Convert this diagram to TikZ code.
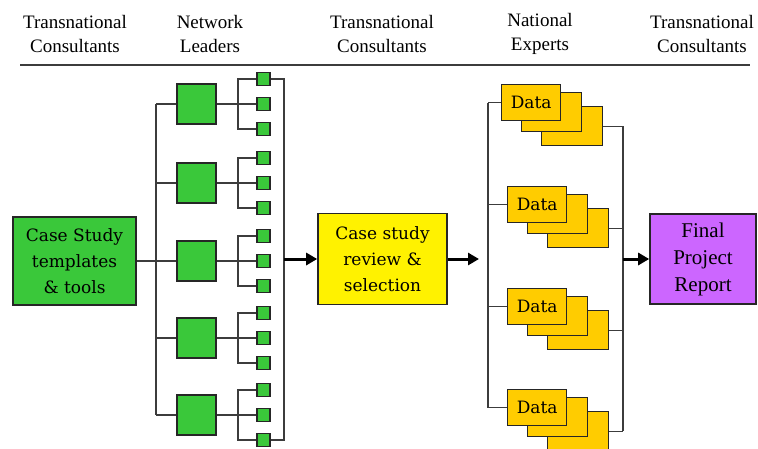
\documentclass[tikz,border=0pt]{standalone}
\usepackage{fontspec}
\setmainfont{Liberation Serif}
\newfontfamily\timesfont{Liberation Serif}
\newfontfamily\slabfont{DejaVu Serif}
\usetikzlibrary{arrows.meta}
\definecolor{leafgreen}{RGB}{58,200,58}
\definecolor{datagold}{RGB}{255,204,0}
\definecolor{reportviolet}{RGB}{204,102,255}
\definecolor{wire}{RGB}{60,60,60}
\tikzset{
  box/.style={draw=black!85,line width=1.6pt,inner sep=0pt,align=center,
    font=\slabfont\fontsize{17}{26}\selectfont},
  leader/.style={draw=black!85,line width=1.4pt,fill=leafgreen,
    minimum width=39pt,minimum height=40pt,inner sep=0pt},
  leaf/.style={draw=black!85,line width=1.2pt,fill=leafgreen,
    minimum size=13pt,inner sep=0pt},
  databox/.style={draw=black!85,line width=1.3pt,fill=datagold,inner sep=0pt,
    anchor=north west,font=\slabfont\fontsize{17}{20}\selectfont},
  head/.style={align=center,inner sep=0pt,font=\timesfont\fontsize{19}{24}\selectfont},
  link/.style={draw=wire,line width=1.3pt},
  flow/.style={line width=3pt,-{Triangle[length=11pt,width=12pt]}}
}
\begin{document}
\begin{tikzpicture}[x=1pt,y=-1pt]
\useasboundingbox (0,0) rectangle (758,448);
% headings
\path
(75,34) node[head] (h1) {Transnational\\Consultants}
(210,34) node[head] (h2) {Network\\Leaders}
(382,34) node[head] (h3) {Transnational\\Consultants}
(540,34) node[head] (h4) {National\\Experts}
(702,34) node[head] (h5) {Transnational\\Consultants};
\coordinate (ruleL) at (20,65);
\coordinate (ruleR) at (750,65);
\draw[draw=wire,line width=2pt] (ruleL) -- (ruleR);
% bus positions
\coordinate (lbus) at (156,0);
\coordinate (sbus) at (238,0);
\coordinate (rbus) at (284,0);
\coordinate (dbus) at (488,0);
\coordinate (obus) at (623,0);
% network leaders and their leaves
\foreach \y [count=\i] in {104,183,261,338,415}{
  \node[leader] (lead\i) at (196.5,\y) {};
  \foreach \dy [count=\j] in {-25,0,25}
    \node[leaf] (sq\i-\j) at (263.5,\y+\dy) {};
  \draw[link] (lead\i.west -| lbus) -- (lead\i.west);
  \draw[link] (lead\i.east) -- (sq\i-2.west);
  \draw[link] (sq\i-1.west) -- (sq\i-1.west -| sbus) -- (sq\i-3.west -| sbus) -- (sq\i-3.west);
}
\draw[link] (lead1.west -| lbus) -- (lead5.west -| lbus);
\draw[link] (sq1-1.east) -- (sq1-1.east -| rbus) -- (sq5-3.east -| rbus) -- (sq5-3.east);
% boxes
\node[box,fill=leafgreen,minimum width=123pt,minimum height=88pt] (tools) at (74.5,261) {Case Study\\templates\\\& tools};
\node[box,fill=yellow,minimum width=129pt,minimum height=91pt] (review) at (382.5,259) {Case study\\review \&\\selection};
\node[box,fill=reportviolet,minimum width=106pt,minimum height=90pt,
  font=\timesfont\fontsize{21}{27}\selectfont] (report) at (703,259) {Final\\Project\\Report};
\draw[link] (tools.east) -- (lead3.west);
% national experts data
\foreach \x/\y [count=\i] in {501/84,507/186,507/288,507/389}{
  \node[databox,minimum width=61pt,minimum height=39pt] (back\i) at (\x+40,\y+22) {};
  \node[databox,minimum width=60pt,minimum height=39pt] (mid\i) at (\x+20,\y+8) {};
  \node[databox,minimum width=59pt,minimum height=36pt] (data\i) at (\x,\y) {Data};
  \draw[link] (data\i.west -| dbus) -- (data\i.west);
  \draw[link] (back\i.east) -- (back\i.east -| obus);
}
\draw[link] (data1.west -| dbus) -- (data4.west -| dbus);
\draw[link] (back1.east -| obus) -- (back4.east -| obus);
% flow arrows
\draw[flow] (rbus |- review.west) -- (review.west);
\draw[flow,shorten >=9pt] (review.east) -- (review.east -| dbus);
\draw[flow] (obus |- report.west) -- (report.west);
\end{tikzpicture}
\end{document}
